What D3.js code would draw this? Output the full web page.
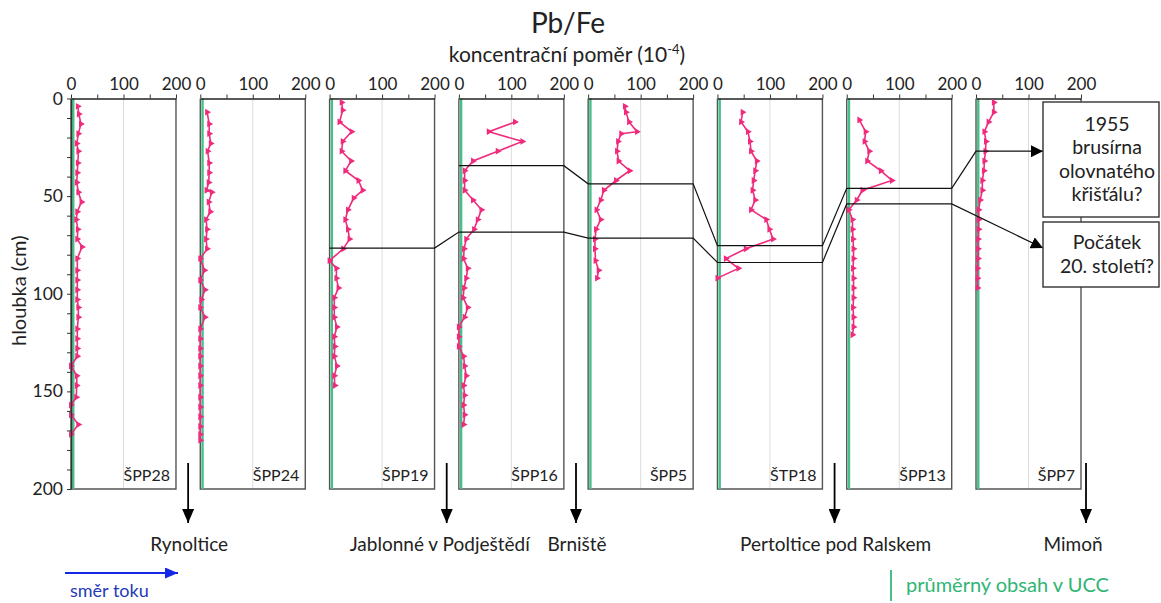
<!DOCTYPE html>
<html>
<head>
<meta charset="utf-8">
<script src="https://cdn.jsdelivr.net/npm/d3@7"></script>
<style>
  html, body { margin: 0; padding: 0; background: #fff; }
  svg { display: block; font-family: Lato, "Open Sans", sans-serif; }
</style>
</head>
<body>
<svg id="chart" width="1161" height="603"></svg>
<script>
// Sediment cores along the river, upstream to downstream
const cores = ["ŠPP28", "ŠPP24", "ŠPP19", "ŠPP16", "ŠPP5", "ŠTP18", "ŠPP13", "ŠPP7"];

// Depth (cm) and Pb/Fe ratio (10^-4) for each core
const depthSPP28 = [4, 8, 13, 18, 23, 27, 33, 38, 43, 48, 53, 58, 62, 67, 72, 76, 82, 88, 93, 98, 103, 107, 112, 118, 123, 128, 132, 137, 142, 147, 153, 157, 162, 167, 172];
const pbfeSPP28  = [13, 15, 19, 14, 11, 14, 13, 12, 11, 14, 20, 12, 10, 13, 12, 21, 12, 12, 12, 12, 12, 14, 14, 12, 12, 12, 12, 0, 11, 11, 10, 0, 0, 14, 0];

const depthSPP24 = [7, 13, 18, 23, 27, 33, 38, 43, 47, 48, 53, 58, 62, 67, 72, 77, 82, 88, 93, 98, 103, 107, 112, 118, 123, 128, 132, 137, 142, 147, 153, 158, 163, 168, 172, 175];
const pbfeSPP24  = [13, 17, 17, 20, 14, 17, 17, 16, 12, 22, 16, 19, 11, 13, 11, 13, 0, 8, 0, 9, 2, 0, 9, 0, 0, 0, 0, 0, 0, 0, 0, 0, 0, 0, 0, 0];

const depthSPP19 = [2, 6, 12, 17, 22, 27, 32, 37, 42, 47, 51, 57, 62, 67, 72, 77, 83, 87, 92, 97, 102, 107, 112, 117, 122, 127, 132, 137, 142, 147];
const pbfeSPP19  = [23, 25, 19, 42, 25, 23, 41, 30, 55, 63, 46, 35, 30, 35, 38, 26, 0, 13, 13, 17, 9, 9, 9, 14, 9, 10, 9, 14, 9, 10];

const depthSPP16 = [12, 17, 22, 27, 32, 37, 42, 47, 52, 57, 62, 67, 72, 77, 82, 87, 92, 97, 102, 107, 112, 117, 122, 127, 132, 137, 142, 147, 152, 157, 162, 167];
const pbfeSPP16  = [107, 57, 121, 74, 27, 11, 11, 11, 27, 43, 36, 29, 14, 10, 9, 17, 14, 10, 8, 17, 11, 0, 0, 0, 9, 11, 14, 9, 11, 9, 11, 9];

const depthSPP5 = [4, 7, 12, 17, 18, 22, 27, 32, 37, 42, 47, 52, 57, 62, 67, 72, 77, 83, 88, 92];
const pbfeSPP5  = [70, 72, 78, 93, 63, 57, 55, 58, 79, 53, 30, 24, 16, 24, 15, 13, 13, 14, 20, 17];

const depthSTP18 = [7, 12, 17, 22, 27, 32, 37, 42, 47, 52, 57, 62, 67, 72, 77, 82, 87, 92];
const pbfeSTP18  = [48, 45, 58, 62, 64, 75, 72, 69, 67, 72, 64, 93, 99, 106, 54, 16, 40, 0];

const depthSPP13 = [11, 17, 22, 27, 32, 37, 42, 47, 52, 57, 62, 67, 72, 77, 82, 87, 92, 97, 102, 107, 112, 117, 121];
const pbfeSPP13  = [24, 36, 34, 43, 39, 65, 86, 30, 19, 4, 11, 11, 12, 13, 13, 12, 13, 13, 13, 12, 13, 13, 11];

const depthSPP7 = [2, 7, 12, 17, 22, 27, 32, 37, 42, 47, 52, 57, 62, 67, 72, 77, 82, 87, 92, 97];
const pbfeSPP7  = [34, 34, 24, 16, 19, 18, 16, 15, 12, 12, 8, 5, 5, 5, 4, 4, 4, 3, 3, 3];

// Upper continental crust average Pb/Fe (10^-4)
const uccPbFe = 4.3;

// Correlated horizons: [core, depth cm]
const horizon1955 = [["ŠPP16", 34.4], ["ŠPP5", 43.7], ["ŠTP18", 75.4], ["ŠPP13", 46], ["ŠPP7", 27]];
const horizon1900 = [["ŠPP19", 76.6], ["ŠPP16", 68.4], ["ŠPP5", 71.5], ["ŠTP18", 84], ["ŠPP13", 54]];

// Axis ticks and labels
const xTickValues = [0, 50, 100, 150, 200];
const xTickLabels = [0, 100, 200];
const yTickLabels = [0, 50, 100, 150, 200];

// Towns along the river and the core they follow
const towns = [["Rynoltice", "ŠPP28"], ["Jablonné v Podještědí", "ŠPP19"], ["Brniště", "ŠPP16"], ["Pertoltice pod Ralskem", "ŠTP18"], ["Mimoň", "ŠPP7"]];

const seriesByCore = {
  "ŠPP28": [depthSPP28, pbfeSPP28],
  "ŠPP24": [depthSPP24, pbfeSPP24],
  "ŠPP19": [depthSPP19, pbfeSPP19],
  "ŠPP16": [depthSPP16, pbfeSPP16],
  "ŠPP5":  [depthSPP5, pbfeSPP5],
  "ŠTP18": [depthSTP18, pbfeSTP18],
  "ŠPP13": [depthSPP13, pbfeSPP13],
  "ŠPP7":  [depthSPP7, pbfeSPP7]
};

const PINK = "#f02a7c";
const GREEN = "#45c088";
const svg = d3.select("#chart");

// Panel placement
const panelBand = d3.scaleBand().domain(cores).range([71, 1081]).paddingInner(0.188).paddingOuter(0);
const bw = panelBand.bandwidth();
const y = d3.scaleLinear().domain([0, 200]).range([98.5, 489]);
const x = d3.scaleLinear().domain([0, 200]).range([0, bw]);

// Arrow markers
const defs = svg.append("defs");
function arrowMarker(id, color, w, h) {
  defs.append("marker").attr("id", id)
    .attr("markerUnits", "userSpaceOnUse")
    .attr("viewBox", `0 0 ${w} ${h}`)
    .attr("markerWidth", w).attr("markerHeight", h)
    .attr("refX", w).attr("refY", h / 2).attr("orient", "auto")
    .append("path").attr("d", `M0,0L${w},${h / 2}L0,${h}Z`).attr("fill", color);
}
arrowMarker("arrBlack", "#000", 12, 12);
arrowMarker("arrDown", "#000", 14, 12);
arrowMarker("arrBlue", "#1426e8", 13, 11);

// Title
svg.append("text").attr("x", 568).attr("y", 33).attr("text-anchor", "middle")
  .attr("font-size", 28).attr("fill", "#222").text("Pb/Fe");
const sub = svg.append("text").attr("x", 567).attr("y", 61.5).attr("text-anchor", "middle")
  .attr("font-size", 21).attr("fill", "#222");
sub.append("tspan").text("koncentrační poměr (10");
sub.append("tspan").attr("font-size", 13).attr("dy", -8).text("-4");
sub.append("tspan").attr("dy", 8).text(")");

// Panels
cores.forEach((core, i) => {
  const g = svg.append("g").attr("transform", `translate(${panelBand(core)},0)`);

  // grid at 100
  g.append("line").attr("x1", x(100)).attr("x2", x(100)).attr("y1", y(0)).attr("y2", y(200))
    .attr("stroke", "#dcdcdc").attr("stroke-width", 1);

  // frame
  g.append("path").attr("d", `M0,${y(0)}V${y(200)}H${x(200)}V${y(0)}`)
    .attr("fill", "none").attr("stroke", "#555").attr("stroke-width", 1.4);

  // UCC average
  g.append("line").attr("x1", x(uccPbFe)).attr("x2", x(uccPbFe)).attr("y1", y(0)).attr("y2", y(200))
    .attr("stroke", GREEN).attr("stroke-width", 2.4);

  // top axis
  const ax = g.append("g").attr("transform", `translate(0,${y(0)})`)
    .call(d3.axisTop(x).tickValues(xTickValues).tickSize(4).tickSizeOuter(0).tickPadding(5)
      .tickFormat(d => xTickLabels.includes(d) ? d : ""));
  ax.select(".domain").attr("stroke", "#222").attr("stroke-width", 1.3);
  ax.selectAll(".tick line").attr("stroke", "#333");
  ax.selectAll(".tick text").attr("font-size", 17).attr("fill", "#222").attr("font-family", "Lato, sans-serif");

  // data
  const [depths, vals] = seriesByCore[core];
  const pts = depths.map((d, k) => [x(vals[k]), y(d)]);
  g.append("path").attr("d", d3.line()(pts)).attr("fill", "none")
    .attr("stroke", PINK).attr("stroke-width", 1.6);
  g.selectAll(".pt").data(pts).enter().append("path")
    .attr("d", d3.symbol(d3.symbolTriangle, 20))
    .attr("transform", p => `translate(${p[0]},${p[1]}) rotate(90)`)
    .attr("fill", PINK);

  // core label
  g.append("text").attr("x", x(200) - 6).attr("y", y(200) - 8).attr("text-anchor", "end")
    .attr("font-size", 16).attr("fill", "#222").text(core);
});

// Left depth axis on first panel
const yAxisG = svg.append("g").attr("transform", `translate(${panelBand(cores[0])},0)`)
  .call(d3.axisLeft(y).tickValues(d3.range(0, 201, 10)).tickSize(4).tickSizeOuter(0).tickPadding(4)
    .tickFormat(d => yTickLabels.includes(d) ? d : ""));
yAxisG.select(".domain").attr("stroke", "#333").attr("stroke-width", 1.4);
yAxisG.selectAll(".tick line").attr("stroke", "#333");
yAxisG.selectAll(".tick text").attr("font-size", 17.5).attr("fill", "#222").attr("font-family", "Lato, sans-serif");
svg.append("text").attr("transform", `translate(26,${(y(0) + y(200)) / 2 - 3}) rotate(-90)`)
  .attr("text-anchor", "middle").attr("font-size", 20).attr("fill", "#222").text("hloubka (cm)");

// Annotation boxes
const box1 = { x: 1043, y: 102, w: 116, h: 115, lines: ["1955", "brusírna", "olovnatého", "křišťálu?"] };
const box2 = { x: 1043, y: 222, w: 116, h: 65, lines: ["Počátek", "20. století?"] };

// Horizon connectors
function horizonPath(chain) {
  let d = "";
  chain.forEach(([core, depth], k) => {
    const x0 = panelBand(core), yy = y(depth);
    d += (k === 0 ? "M" : "L") + x0 + "," + yy + "L" + (x0 + bw) + "," + yy;
  });
  return d;
}
// 1955 horizon: last core runs straight into the box
(function () {
  const last = horizon1955[horizon1955.length - 1];
  const body = horizon1955.slice(0, -1);
  let d = horizonPath(body);
  d += "L" + panelBand(last[0]) + "," + y(last[1]) + "L" + box1.x + "," + y(last[1]);
  svg.append("path").attr("d", d).attr("fill", "none").attr("stroke", "#111")
    .attr("stroke-width", 1.2).attr("marker-end", "url(#arrBlack)");
})();
// early 20th century horizon: from the last core down to the second box
(function () {
  let d = horizonPath(horizon1900);
  d += "L" + box2.x + "," + (box2.y + 26);
  svg.append("path").attr("d", d).attr("fill", "none").attr("stroke", "#111")
    .attr("stroke-width", 1.2).attr("marker-end", "url(#arrBlack)");
})();

[box1, box2].forEach(b => {
  svg.append("rect").attr("x", b.x).attr("y", b.y).attr("width", b.w).attr("height", b.h)
    .attr("fill", "#fff").attr("stroke", "#333").attr("stroke-width", 1.4);
  const lh = 23.5;
  const top = b.y + b.h / 2 - (b.lines.length - 1) * lh / 2;
  b.lines.forEach((t, k) => {
    svg.append("text").attr("x", b.x + b.w / 2 + 6).attr("y", top + k * lh + 6.5)
      .attr("text-anchor", "middle").attr("font-size", 19.5).attr("fill", "#222").text(t);
  });
});

// Town arrows and names
towns.forEach(([name, core]) => {
  const ax = (core === "ŠPP7") ? panelBand(core) + bw + 5 : panelBand(core) + bw + (panelBand.step() - bw) / 2;
  svg.append("line").attr("x1", ax).attr("x2", ax).attr("y1", 463).attr("y2", 523)
    .attr("stroke", "#000").attr("stroke-width", 1.8).attr("marker-end", "url(#arrDown)");
  const tx = name === "Jablonné v Podještědí" ? ax - 7 : (name === "Mimoň" ? ax - 13 : ax + 1);
  svg.append("text").attr("x", tx).attr("y", 551).attr("text-anchor", "middle")
    .attr("font-size", 19).attr("fill", "#222").text(name);
});

// Flow direction
svg.append("line").attr("x1", 65).attr("x2", 178).attr("y1", 573).attr("y2", 573)
  .attr("stroke", "#1426e8").attr("stroke-width", 2).attr("marker-end", "url(#arrBlue)");
svg.append("text").attr("x", 70).attr("y", 597).attr("font-size", 18).attr("fill", "#1f3ab8").text("směr toku");

// UCC legend
svg.append("line").attr("x1", 891).attr("x2", 891).attr("y1", 570).attr("y2", 601)
  .attr("stroke", GREEN).attr("stroke-width", 2);
svg.append("text").attr("x", 906).attr("y", 592).attr("font-size", 20).attr("fill", "#2fb574").text("průměrný obsah v UCC");
</script>
</body>
</html>
